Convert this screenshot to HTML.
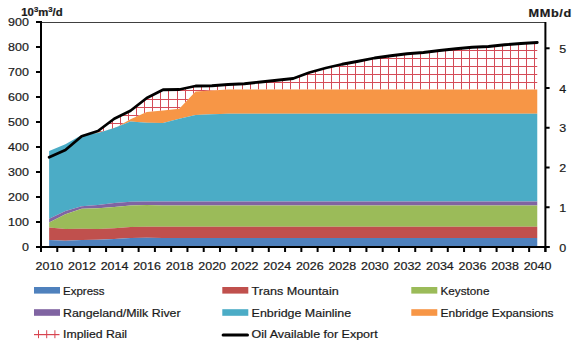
<!DOCTYPE html>
<html><head><meta charset="utf-8"><style>
html,body{margin:0;padding:0;background:#fff;width:580px;height:344px;overflow:hidden}
svg{display:block}
</style></head><body>
<svg width="580" height="344" viewBox="0 0 580 344">

<rect width="580" height="344" fill="#fff"/>
<clipPath id="railclip"><path d="M49.14,151.00 L65.41,144.25 L81.68,135.00 L97.95,131.00 L114.22,118.75 L130.49,110.75 L146.76,98.00 L163.03,89.75 L179.30,89.50 L195.57,86.00 L211.85,85.75 L228.12,84.50 L244.39,83.75 L260.66,82.00 L276.93,80.25 L293.20,78.50 L309.47,72.50 L325.74,68.00 L342.01,64.25 L358.28,61.25 L374.55,58.00 L390.83,55.75 L407.10,53.75 L423.37,52.50 L439.64,50.50 L455.91,48.75 L472.18,47.25 L488.45,46.50 L504.72,44.75 L520.99,43.50 L537.26,42.50 L537.26,89.50 L520.99,89.50 L504.72,89.50 L488.45,89.50 L472.18,89.50 L455.91,89.50 L439.64,89.50 L423.37,89.50 L407.10,89.50 L390.83,89.50 L374.55,89.50 L358.28,89.50 L342.01,89.50 L325.74,89.50 L309.47,89.50 L293.20,89.50 L276.93,89.50 L260.66,89.50 L244.39,89.50 L228.12,89.50 L211.85,90.50 L195.57,91.50 L179.30,108.75 L163.03,110.50 L146.76,112.00 L130.49,119.25 L114.22,128.50 L97.95,132.50 L81.68,135.00 L65.41,144.25 L49.14,151.00 Z" fill="#fff"/></clipPath>
<g clip-path="url(#railclip)" fill="#D44C58"><rect x="46.00" y="22" width="1" height="225"/><rect x="55.00" y="22" width="1" height="225"/><rect x="63.00" y="22" width="1" height="225"/><rect x="71.00" y="22" width="1" height="225"/><rect x="79.00" y="22" width="1" height="225"/><rect x="87.00" y="22" width="1" height="225"/><rect x="95.00" y="22" width="1" height="225"/><rect x="103.00" y="22" width="1" height="225"/><rect x="112.00" y="22" width="1" height="225"/><rect x="120.00" y="22" width="1" height="225"/><rect x="128.00" y="22" width="1" height="225"/><rect x="136.00" y="22" width="1" height="225"/><rect x="144.00" y="22" width="1" height="225"/><rect x="152.00" y="22" width="1" height="225"/><rect x="160.00" y="22" width="1" height="225"/><rect x="168.00" y="22" width="1" height="225"/><rect x="177.00" y="22" width="1" height="225"/><rect x="185.00" y="22" width="1" height="225"/><rect x="193.00" y="22" width="1" height="225"/><rect x="201.00" y="22" width="1" height="225"/><rect x="209.00" y="22" width="1" height="225"/><rect x="217.00" y="22" width="1" height="225"/><rect x="225.00" y="22" width="1" height="225"/><rect x="233.00" y="22" width="1" height="225"/><rect x="242.00" y="22" width="1" height="225"/><rect x="250.00" y="22" width="1" height="225"/><rect x="258.00" y="22" width="1" height="225"/><rect x="266.00" y="22" width="1" height="225"/><rect x="274.00" y="22" width="1" height="225"/><rect x="282.00" y="22" width="1" height="225"/><rect x="290.00" y="22" width="1" height="225"/><rect x="299.00" y="22" width="1" height="225"/><rect x="307.00" y="22" width="1" height="225"/><rect x="315.00" y="22" width="1" height="225"/><rect x="323.00" y="22" width="1" height="225"/><rect x="331.00" y="22" width="1" height="225"/><rect x="339.00" y="22" width="1" height="225"/><rect x="347.00" y="22" width="1" height="225"/><rect x="355.00" y="22" width="1" height="225"/><rect x="364.00" y="22" width="1" height="225"/><rect x="372.00" y="22" width="1" height="225"/><rect x="380.00" y="22" width="1" height="225"/><rect x="388.00" y="22" width="1" height="225"/><rect x="396.00" y="22" width="1" height="225"/><rect x="404.00" y="22" width="1" height="225"/><rect x="412.00" y="22" width="1" height="225"/><rect x="420.00" y="22" width="1" height="225"/><rect x="429.00" y="22" width="1" height="225"/><rect x="437.00" y="22" width="1" height="225"/><rect x="445.00" y="22" width="1" height="225"/><rect x="453.00" y="22" width="1" height="225"/><rect x="461.00" y="22" width="1" height="225"/><rect x="469.00" y="22" width="1" height="225"/><rect x="477.00" y="22" width="1" height="225"/><rect x="486.00" y="22" width="1" height="225"/><rect x="494.00" y="22" width="1" height="225"/><rect x="502.00" y="22" width="1" height="225"/><rect x="510.00" y="22" width="1" height="225"/><rect x="518.00" y="22" width="1" height="225"/><rect x="526.00" y="22" width="1" height="225"/><rect x="534.00" y="22" width="1" height="225"/><rect x="542.00" y="22" width="1" height="225"/><rect x="41" y="25.00" width="505" height="1"/><rect x="41" y="34.00" width="505" height="1"/><rect x="41" y="42.00" width="505" height="1"/><rect x="41" y="50.00" width="505" height="1"/><rect x="41" y="58.00" width="505" height="1"/><rect x="41" y="66.00" width="505" height="1"/><rect x="41" y="74.00" width="505" height="1"/><rect x="41" y="82.00" width="505" height="1"/><rect x="41" y="90.00" width="505" height="1"/><rect x="41" y="99.00" width="505" height="1"/><rect x="41" y="107.00" width="505" height="1"/><rect x="41" y="115.00" width="505" height="1"/><rect x="41" y="123.00" width="505" height="1"/><rect x="41" y="131.00" width="505" height="1"/><rect x="41" y="139.00" width="505" height="1"/><rect x="41" y="147.00" width="505" height="1"/><rect x="41" y="155.00" width="505" height="1"/><rect x="41" y="164.00" width="505" height="1"/><rect x="41" y="172.00" width="505" height="1"/><rect x="41" y="180.00" width="505" height="1"/><rect x="41" y="188.00" width="505" height="1"/><rect x="41" y="196.00" width="505" height="1"/><rect x="41" y="204.00" width="505" height="1"/><rect x="41" y="212.00" width="505" height="1"/><rect x="41" y="221.00" width="505" height="1"/><rect x="41" y="229.00" width="505" height="1"/><rect x="41" y="237.00" width="505" height="1"/><rect x="41" y="245.00" width="505" height="1"/></g>
<path d="M49.14,151.00 L65.41,144.25 L81.68,135.00 L97.95,132.50 L114.22,128.50 L130.49,119.25 L146.76,112.00 L163.03,110.50 L179.30,108.75 L195.57,91.50 L211.85,90.50 L228.12,89.50 L244.39,89.50 L260.66,89.50 L276.93,89.50 L293.20,89.50 L309.47,89.50 L325.74,89.50 L342.01,89.50 L358.28,89.50 L374.55,89.50 L390.83,89.50 L407.10,89.50 L423.37,89.50 L439.64,89.50 L455.91,89.50 L472.18,89.50 L488.45,89.50 L504.72,89.50 L520.99,89.50 L537.26,89.50 L537.26,113.75 L520.99,113.75 L504.72,113.75 L488.45,113.75 L472.18,113.75 L455.91,113.75 L439.64,113.75 L423.37,113.75 L407.10,113.75 L390.83,113.75 L374.55,113.75 L358.28,113.75 L342.01,113.75 L325.74,113.75 L309.47,113.75 L293.20,113.75 L276.93,113.75 L260.66,113.75 L244.39,113.75 L228.12,113.75 L211.85,114.25 L195.57,115.00 L179.30,118.75 L163.03,123.00 L146.76,122.75 L130.49,121.50 L114.22,128.00 L97.95,133.00 L81.68,135.00 L65.41,144.25 L49.14,151.00 Z" fill="#F79646"/>
<path d="M49.14,151.00 L65.41,144.25 L81.68,135.00 L97.95,133.00 L114.22,128.00 L130.49,121.50 L146.76,122.75 L163.03,123.00 L179.30,118.75 L195.57,115.00 L211.85,114.25 L228.12,113.75 L244.39,113.75 L260.66,113.75 L276.93,113.75 L293.20,113.75 L309.47,113.75 L325.74,113.75 L342.01,113.75 L358.28,113.75 L374.55,113.75 L390.83,113.75 L407.10,113.75 L423.37,113.75 L439.64,113.75 L455.91,113.75 L472.18,113.75 L488.45,113.75 L504.72,113.75 L520.99,113.75 L537.26,113.75 L537.26,201.50 L520.99,201.50 L504.72,201.50 L488.45,201.50 L472.18,201.50 L455.91,201.50 L439.64,201.50 L423.37,201.50 L407.10,201.50 L390.83,201.50 L374.55,201.50 L358.28,201.50 L342.01,201.50 L325.74,201.50 L309.47,201.50 L293.20,201.50 L276.93,201.50 L260.66,201.50 L244.39,201.50 L228.12,201.50 L211.85,201.50 L195.57,201.50 L179.30,201.50 L163.03,201.50 L146.76,201.50 L130.49,201.75 L114.22,203.00 L97.95,205.00 L81.68,206.25 L65.41,211.00 L49.14,218.75 Z" fill="#4BACC6"/>
<path d="M49.14,218.75 L65.41,211.00 L81.68,206.25 L97.95,205.00 L114.22,203.00 L130.49,201.75 L146.76,201.50 L163.03,201.50 L179.30,201.50 L195.57,201.50 L211.85,201.50 L228.12,201.50 L244.39,201.50 L260.66,201.50 L276.93,201.50 L293.20,201.50 L309.47,201.50 L325.74,201.50 L342.01,201.50 L358.28,201.50 L374.55,201.50 L390.83,201.50 L407.10,201.50 L423.37,201.50 L439.64,201.50 L455.91,201.50 L472.18,201.50 L488.45,201.50 L504.72,201.50 L520.99,201.50 L537.26,201.50 L537.26,205.50 L520.99,205.50 L504.72,205.50 L488.45,205.50 L472.18,205.50 L455.91,205.50 L439.64,205.50 L423.37,205.50 L407.10,205.50 L390.83,205.50 L374.55,205.50 L358.28,205.50 L342.01,205.50 L325.74,205.50 L309.47,205.50 L293.20,205.50 L276.93,205.50 L260.66,205.50 L244.39,205.50 L228.12,205.50 L211.85,205.50 L195.57,205.50 L179.30,205.50 L163.03,205.50 L146.76,205.00 L130.49,205.50 L114.22,207.00 L97.95,208.25 L81.68,208.75 L65.41,214.25 L49.14,222.50 Z" fill="#8064A2"/>
<path d="M49.14,222.50 L65.41,214.25 L81.68,208.75 L97.95,208.25 L114.22,207.00 L130.49,205.50 L146.76,205.00 L163.03,205.50 L179.30,205.50 L195.57,205.50 L211.85,205.50 L228.12,205.50 L244.39,205.50 L260.66,205.50 L276.93,205.50 L293.20,205.50 L309.47,205.50 L325.74,205.50 L342.01,205.50 L358.28,205.50 L374.55,205.50 L390.83,205.50 L407.10,205.50 L423.37,205.50 L439.64,205.50 L455.91,205.50 L472.18,205.50 L488.45,205.50 L504.72,205.50 L520.99,205.50 L537.26,205.50 L537.26,226.75 L520.99,226.75 L504.72,226.75 L488.45,226.75 L472.18,226.75 L455.91,226.75 L439.64,226.75 L423.37,226.75 L407.10,226.75 L390.83,226.75 L374.55,226.75 L358.28,226.75 L342.01,226.75 L325.74,226.75 L309.47,226.75 L293.20,226.75 L276.93,226.75 L260.66,226.75 L244.39,226.75 L228.12,226.75 L211.85,226.75 L195.57,226.75 L179.30,226.75 L163.03,226.75 L146.76,226.75 L130.49,227.00 L114.22,228.25 L97.95,229.00 L81.68,228.75 L65.41,229.00 L49.14,227.60 Z" fill="#9BBB59"/>
<path d="M49.14,227.60 L65.41,229.00 L81.68,228.75 L97.95,229.00 L114.22,228.25 L130.49,227.00 L146.76,226.75 L163.03,226.75 L179.30,226.75 L195.57,226.75 L211.85,226.75 L228.12,226.75 L244.39,226.75 L260.66,226.75 L276.93,226.75 L293.20,226.75 L309.47,226.75 L325.74,226.75 L342.01,226.75 L358.28,226.75 L374.55,226.75 L390.83,226.75 L407.10,226.75 L423.37,226.75 L439.64,226.75 L455.91,226.75 L472.18,226.75 L488.45,226.75 L504.72,226.75 L520.99,226.75 L537.26,226.75 L537.26,237.88 L520.99,237.88 L504.72,237.88 L488.45,237.88 L472.18,237.88 L455.91,237.88 L439.64,237.88 L423.37,237.88 L407.10,237.88 L390.83,237.88 L374.55,237.88 L358.28,237.88 L342.01,237.88 L325.74,237.88 L309.47,237.88 L293.20,237.88 L276.93,237.88 L260.66,237.88 L244.39,237.88 L228.12,237.88 L211.85,237.88 L195.57,237.88 L179.30,237.88 L163.03,237.88 L146.76,237.75 L130.49,238.00 L114.22,239.00 L97.95,239.75 L81.68,240.00 L65.41,240.75 L49.14,240.00 Z" fill="#C0504D"/>
<path d="M49.14,240.00 L65.41,240.75 L81.68,240.00 L97.95,239.75 L114.22,239.00 L130.49,238.00 L146.76,237.75 L163.03,237.88 L179.30,237.88 L195.57,237.88 L211.85,237.88 L228.12,237.88 L244.39,237.88 L260.66,237.88 L276.93,237.88 L293.20,237.88 L309.47,237.88 L325.74,237.88 L342.01,237.88 L358.28,237.88 L374.55,237.88 L390.83,237.88 L407.10,237.88 L423.37,237.88 L439.64,237.88 L455.91,237.88 L472.18,237.88 L488.45,237.88 L504.72,237.88 L520.99,237.88 L537.26,237.88 L537.26,247.00 L520.99,247.00 L504.72,247.00 L488.45,247.00 L472.18,247.00 L455.91,247.00 L439.64,247.00 L423.37,247.00 L407.10,247.00 L390.83,247.00 L374.55,247.00 L358.28,247.00 L342.01,247.00 L325.74,247.00 L309.47,247.00 L293.20,247.00 L276.93,247.00 L260.66,247.00 L244.39,247.00 L228.12,247.00 L211.85,247.00 L195.57,247.00 L179.30,247.00 L163.03,247.00 L146.76,247.00 L130.49,247.00 L114.22,247.00 L97.95,247.00 L81.68,247.00 L65.41,247.00 L49.14,247.00 Z" fill="#4F81BD"/>
<path d="M49.14,157.25 L65.41,150.00 L81.68,136.25 L97.95,131.00 L114.22,118.75 L130.49,110.75 L146.76,98.00 L163.03,89.75 L179.30,89.50 L195.57,86.00 L211.85,85.75 L228.12,84.50 L244.39,83.75 L260.66,82.00 L276.93,80.25 L293.20,78.50 L309.47,72.50 L325.74,68.00 L342.01,64.25 L358.28,61.25 L374.55,58.00 L390.83,55.75 L407.10,53.75 L423.37,52.50 L439.64,50.50 L455.91,48.75 L472.18,47.25 L488.45,46.50 L504.72,44.75 L520.99,43.50 L537.26,42.50" fill="none" stroke="#000" stroke-width="2.8" stroke-linejoin="round" stroke-linecap="round"/>
<rect x="41.0" y="22" width="504.4" height="1" fill="#404040"/>
<rect x="40" y="21" width="2" height="231" fill="#000"/>
<rect x="544.4" y="22" width="2" height="230" fill="#000"/>
<rect x="36" y="246" width="513.5" height="2" fill="#000"/>
<rect x="36" y="246.00" width="5" height="2" fill="#000"/>
<rect x="36" y="221.00" width="5" height="2" fill="#000"/>
<rect x="36" y="196.00" width="5" height="2" fill="#000"/>
<rect x="36" y="171.00" width="5" height="2" fill="#000"/>
<rect x="36" y="146.00" width="5" height="2" fill="#000"/>
<rect x="36" y="121.00" width="5" height="2" fill="#000"/>
<rect x="36" y="96.00" width="5" height="2" fill="#000"/>
<rect x="36" y="71.00" width="5" height="2" fill="#000"/>
<rect x="36" y="46.00" width="5" height="2" fill="#000"/>
<rect x="36" y="21.00" width="5" height="2" fill="#000"/>
<rect x="545.4" y="246.00" width="4.2" height="2" fill="#000"/>
<rect x="545.4" y="206.25" width="4.2" height="2" fill="#000"/>
<rect x="545.4" y="166.51" width="4.2" height="2" fill="#000"/>
<rect x="545.4" y="126.76" width="4.2" height="2" fill="#000"/>
<rect x="545.4" y="87.01" width="4.2" height="2" fill="#000"/>
<rect x="545.4" y="47.27" width="4.2" height="2" fill="#000"/>
<rect x="40.00" y="247" width="2" height="5" fill="#000"/>
<rect x="56.27" y="247" width="2" height="5" fill="#000"/>
<rect x="72.54" y="247" width="2" height="5" fill="#000"/>
<rect x="88.81" y="247" width="2" height="5" fill="#000"/>
<rect x="105.08" y="247" width="2" height="5" fill="#000"/>
<rect x="121.35" y="247" width="2" height="5" fill="#000"/>
<rect x="137.63" y="247" width="2" height="5" fill="#000"/>
<rect x="153.90" y="247" width="2" height="5" fill="#000"/>
<rect x="170.17" y="247" width="2" height="5" fill="#000"/>
<rect x="186.44" y="247" width="2" height="5" fill="#000"/>
<rect x="202.71" y="247" width="2" height="5" fill="#000"/>
<rect x="218.98" y="247" width="2" height="5" fill="#000"/>
<rect x="235.25" y="247" width="2" height="5" fill="#000"/>
<rect x="251.52" y="247" width="2" height="5" fill="#000"/>
<rect x="267.79" y="247" width="2" height="5" fill="#000"/>
<rect x="284.06" y="247" width="2" height="5" fill="#000"/>
<rect x="300.34" y="247" width="2" height="5" fill="#000"/>
<rect x="316.61" y="247" width="2" height="5" fill="#000"/>
<rect x="332.88" y="247" width="2" height="5" fill="#000"/>
<rect x="349.15" y="247" width="2" height="5" fill="#000"/>
<rect x="365.42" y="247" width="2" height="5" fill="#000"/>
<rect x="381.69" y="247" width="2" height="5" fill="#000"/>
<rect x="397.96" y="247" width="2" height="5" fill="#000"/>
<rect x="414.23" y="247" width="2" height="5" fill="#000"/>
<rect x="430.50" y="247" width="2" height="5" fill="#000"/>
<rect x="446.77" y="247" width="2" height="5" fill="#000"/>
<rect x="463.05" y="247" width="2" height="5" fill="#000"/>
<rect x="479.32" y="247" width="2" height="5" fill="#000"/>
<rect x="495.59" y="247" width="2" height="5" fill="#000"/>
<rect x="511.86" y="247" width="2" height="5" fill="#000"/>
<rect x="528.13" y="247" width="2" height="5" fill="#000"/>
<rect x="544.40" y="247" width="2" height="5" fill="#000"/>
<text transform="translate(28.90,250.80) scale(1.040,0.920)" text-anchor="end" font-size="12" font-family="Liberation Sans, sans-serif" fill="#1a1a1a" stroke="#1a1a1a" stroke-width="0.22" >0</text>
<text transform="translate(28.90,225.80) scale(1.040,0.920)" text-anchor="end" font-size="12" font-family="Liberation Sans, sans-serif" fill="#1a1a1a" stroke="#1a1a1a" stroke-width="0.22" >100</text>
<text transform="translate(28.90,200.80) scale(1.040,0.920)" text-anchor="end" font-size="12" font-family="Liberation Sans, sans-serif" fill="#1a1a1a" stroke="#1a1a1a" stroke-width="0.22" >200</text>
<text transform="translate(28.90,175.80) scale(1.040,0.920)" text-anchor="end" font-size="12" font-family="Liberation Sans, sans-serif" fill="#1a1a1a" stroke="#1a1a1a" stroke-width="0.22" >300</text>
<text transform="translate(28.90,150.80) scale(1.040,0.920)" text-anchor="end" font-size="12" font-family="Liberation Sans, sans-serif" fill="#1a1a1a" stroke="#1a1a1a" stroke-width="0.22" >400</text>
<text transform="translate(28.90,125.80) scale(1.040,0.920)" text-anchor="end" font-size="12" font-family="Liberation Sans, sans-serif" fill="#1a1a1a" stroke="#1a1a1a" stroke-width="0.22" >500</text>
<text transform="translate(28.90,100.80) scale(1.040,0.920)" text-anchor="end" font-size="12" font-family="Liberation Sans, sans-serif" fill="#1a1a1a" stroke="#1a1a1a" stroke-width="0.22" >600</text>
<text transform="translate(28.90,75.80) scale(1.040,0.920)" text-anchor="end" font-size="12" font-family="Liberation Sans, sans-serif" fill="#1a1a1a" stroke="#1a1a1a" stroke-width="0.22" >700</text>
<text transform="translate(28.90,50.80) scale(1.040,0.920)" text-anchor="end" font-size="12" font-family="Liberation Sans, sans-serif" fill="#1a1a1a" stroke="#1a1a1a" stroke-width="0.22" >800</text>
<text transform="translate(28.90,25.80) scale(1.040,0.920)" text-anchor="end" font-size="12" font-family="Liberation Sans, sans-serif" fill="#1a1a1a" stroke="#1a1a1a" stroke-width="0.22" >900</text>
<text transform="translate(559.30,251.60) scale(1.040,0.920)" text-anchor="start" font-size="12" font-family="Liberation Sans, sans-serif" fill="#1a1a1a" stroke="#1a1a1a" stroke-width="0.22" >0</text>
<text transform="translate(559.30,211.85) scale(1.040,0.920)" text-anchor="start" font-size="12" font-family="Liberation Sans, sans-serif" fill="#1a1a1a" stroke="#1a1a1a" stroke-width="0.22" >1</text>
<text transform="translate(559.30,172.11) scale(1.040,0.920)" text-anchor="start" font-size="12" font-family="Liberation Sans, sans-serif" fill="#1a1a1a" stroke="#1a1a1a" stroke-width="0.22" >2</text>
<text transform="translate(559.30,132.36) scale(1.040,0.920)" text-anchor="start" font-size="12" font-family="Liberation Sans, sans-serif" fill="#1a1a1a" stroke="#1a1a1a" stroke-width="0.22" >3</text>
<text transform="translate(559.30,92.61) scale(1.040,0.920)" text-anchor="start" font-size="12" font-family="Liberation Sans, sans-serif" fill="#1a1a1a" stroke="#1a1a1a" stroke-width="0.22" >4</text>
<text transform="translate(559.30,52.87) scale(1.040,0.920)" text-anchor="start" font-size="12" font-family="Liberation Sans, sans-serif" fill="#1a1a1a" stroke="#1a1a1a" stroke-width="0.22" >5</text>
<text transform="translate(49.44,269.50) scale(1.040,0.920)" text-anchor="middle" font-size="12" font-family="Liberation Sans, sans-serif" fill="#1a1a1a" stroke="#1a1a1a" stroke-width="0.22" >2010</text>
<text transform="translate(81.98,269.50) scale(1.040,0.920)" text-anchor="middle" font-size="12" font-family="Liberation Sans, sans-serif" fill="#1a1a1a" stroke="#1a1a1a" stroke-width="0.22" >2012</text>
<text transform="translate(114.52,269.50) scale(1.040,0.920)" text-anchor="middle" font-size="12" font-family="Liberation Sans, sans-serif" fill="#1a1a1a" stroke="#1a1a1a" stroke-width="0.22" >2014</text>
<text transform="translate(147.06,269.50) scale(1.040,0.920)" text-anchor="middle" font-size="12" font-family="Liberation Sans, sans-serif" fill="#1a1a1a" stroke="#1a1a1a" stroke-width="0.22" >2016</text>
<text transform="translate(179.60,269.50) scale(1.040,0.920)" text-anchor="middle" font-size="12" font-family="Liberation Sans, sans-serif" fill="#1a1a1a" stroke="#1a1a1a" stroke-width="0.22" >2018</text>
<text transform="translate(212.15,269.50) scale(1.040,0.920)" text-anchor="middle" font-size="12" font-family="Liberation Sans, sans-serif" fill="#1a1a1a" stroke="#1a1a1a" stroke-width="0.22" >2020</text>
<text transform="translate(244.69,269.50) scale(1.040,0.920)" text-anchor="middle" font-size="12" font-family="Liberation Sans, sans-serif" fill="#1a1a1a" stroke="#1a1a1a" stroke-width="0.22" >2022</text>
<text transform="translate(277.23,269.50) scale(1.040,0.920)" text-anchor="middle" font-size="12" font-family="Liberation Sans, sans-serif" fill="#1a1a1a" stroke="#1a1a1a" stroke-width="0.22" >2024</text>
<text transform="translate(309.77,269.50) scale(1.040,0.920)" text-anchor="middle" font-size="12" font-family="Liberation Sans, sans-serif" fill="#1a1a1a" stroke="#1a1a1a" stroke-width="0.22" >2026</text>
<text transform="translate(342.31,269.50) scale(1.040,0.920)" text-anchor="middle" font-size="12" font-family="Liberation Sans, sans-serif" fill="#1a1a1a" stroke="#1a1a1a" stroke-width="0.22" >2028</text>
<text transform="translate(374.85,269.50) scale(1.040,0.920)" text-anchor="middle" font-size="12" font-family="Liberation Sans, sans-serif" fill="#1a1a1a" stroke="#1a1a1a" stroke-width="0.22" >2030</text>
<text transform="translate(407.40,269.50) scale(1.040,0.920)" text-anchor="middle" font-size="12" font-family="Liberation Sans, sans-serif" fill="#1a1a1a" stroke="#1a1a1a" stroke-width="0.22" >2032</text>
<text transform="translate(439.94,269.50) scale(1.040,0.920)" text-anchor="middle" font-size="12" font-family="Liberation Sans, sans-serif" fill="#1a1a1a" stroke="#1a1a1a" stroke-width="0.22" >2034</text>
<text transform="translate(472.48,269.50) scale(1.040,0.920)" text-anchor="middle" font-size="12" font-family="Liberation Sans, sans-serif" fill="#1a1a1a" stroke="#1a1a1a" stroke-width="0.22" >2036</text>
<text transform="translate(505.02,269.50) scale(1.040,0.920)" text-anchor="middle" font-size="12" font-family="Liberation Sans, sans-serif" fill="#1a1a1a" stroke="#1a1a1a" stroke-width="0.22" >2038</text>
<text transform="translate(537.56,269.50) scale(1.040,0.920)" text-anchor="middle" font-size="12" font-family="Liberation Sans, sans-serif" fill="#1a1a1a" stroke="#1a1a1a" stroke-width="0.22" >2040</text>
<text transform="translate(21.30,15.60) scale(1.030,0.950)" text-anchor="start" font-size="11" font-family="Liberation Sans, sans-serif" fill="#1a1a1a" stroke="#1a1a1a" stroke-width="0.22" font-weight="bold">10<tspan font-size="7.5" dy="-3.6">3</tspan><tspan dy="3.6">m</tspan><tspan font-size="7.5" dy="-3.6">3</tspan><tspan dy="3.6">/d</tspan></text>
<text transform="translate(528.60,16.90) scale(1.060,0.970)" text-anchor="start" font-size="12" font-family="Liberation Sans, sans-serif" fill="#1a1a1a" stroke="#1a1a1a" stroke-width="0.22" font-weight="bold" letter-spacing="0.55">MMb/d</text>
<rect x="34.0" y="287.0" width="26" height="6.6" fill="#4F81BD"/>
<text transform="translate(63.00,294.60) scale(1,0.920)" font-size="12.3" textLength="41.6" lengthAdjust="spacingAndGlyphs" font-family="Liberation Sans, sans-serif" fill="#1a1a1a" stroke="#1a1a1a" stroke-width="0.22">Express</text>
<rect x="222.3" y="287.0" width="26" height="6.6" fill="#C0504D"/>
<text transform="translate(251.60,294.60) scale(1,0.920)" font-size="12.3" textLength="87.1" lengthAdjust="spacingAndGlyphs" font-family="Liberation Sans, sans-serif" fill="#1a1a1a" stroke="#1a1a1a" stroke-width="0.22">Trans Mountain</text>
<rect x="411.3" y="287.0" width="26" height="6.6" fill="#9BBB59"/>
<text transform="translate(440.50,294.60) scale(1,0.920)" font-size="12.3" textLength="48.9" lengthAdjust="spacingAndGlyphs" font-family="Liberation Sans, sans-serif" fill="#1a1a1a" stroke="#1a1a1a" stroke-width="0.22">Keystone</text>
<rect x="34.0" y="309.2" width="26" height="6.6" fill="#8064A2"/>
<text transform="translate(63.00,316.80) scale(1,0.920)" font-size="12.3" textLength="117.6" lengthAdjust="spacingAndGlyphs" font-family="Liberation Sans, sans-serif" fill="#1a1a1a" stroke="#1a1a1a" stroke-width="0.22">Rangeland/Milk River</text>
<rect x="222.3" y="309.2" width="26" height="6.6" fill="#4BACC6"/>
<text transform="translate(251.60,316.80) scale(1,0.920)" font-size="12.3" textLength="99.6" lengthAdjust="spacingAndGlyphs" font-family="Liberation Sans, sans-serif" fill="#1a1a1a" stroke="#1a1a1a" stroke-width="0.22">Enbridge Mainline</text>
<rect x="411.3" y="309.2" width="26" height="6.6" fill="#F79646"/>
<text transform="translate(440.50,316.80) scale(1,0.920)" font-size="12.3" textLength="113.1" lengthAdjust="spacingAndGlyphs" font-family="Liberation Sans, sans-serif" fill="#1a1a1a" stroke="#1a1a1a" stroke-width="0.22">Enbridge Expansions</text>
<rect x="34.0" y="334" width="25.5" height="1.2" fill="#D84450"/>
<rect x="38.0" y="330.2" width="1" height="8" fill="#D84450"/>
<rect x="46.2" y="330.2" width="1" height="8" fill="#D84450"/>
<rect x="54.4" y="330.2" width="1" height="8" fill="#D84450"/>
<text transform="translate(63.00,337.50) scale(1,0.920)" font-size="12.3" textLength="64.1" lengthAdjust="spacingAndGlyphs" font-family="Liberation Sans, sans-serif" fill="#1a1a1a" stroke="#1a1a1a" stroke-width="0.22">Implied Rail</text>
<line x1="223.1" y1="335" x2="247.5" y2="335" stroke="#000" stroke-width="3" stroke-linecap="round"/>
<text transform="translate(251.60,337.50) scale(1,0.920)" font-size="12.3" textLength="126.1" lengthAdjust="spacingAndGlyphs" font-family="Liberation Sans, sans-serif" fill="#1a1a1a" stroke="#1a1a1a" stroke-width="0.22">Oil Available for Export</text>
</svg>
</body></html>
